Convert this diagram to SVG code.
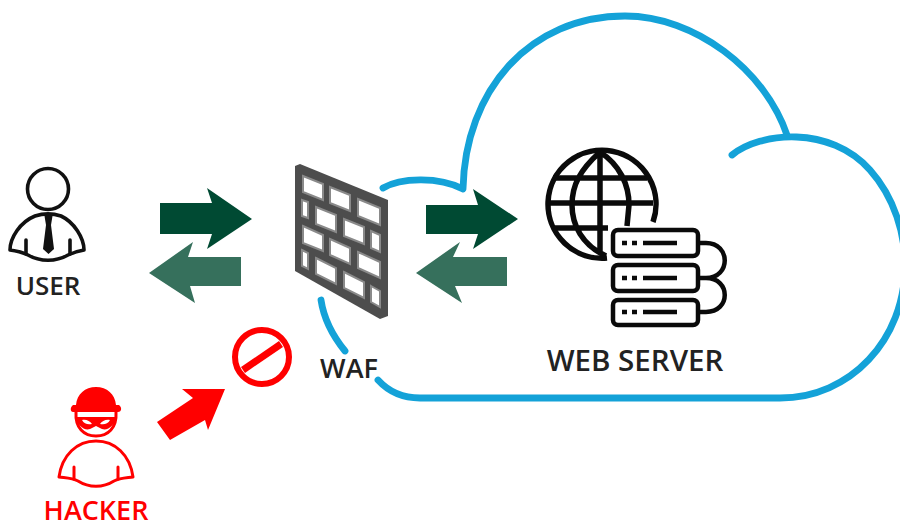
<svg xmlns="http://www.w3.org/2000/svg" width="900" height="528" viewBox="0 0 900 528">
<style>
text{font-family:"Open Sans","Noto Sans","Liberation Sans",sans-serif;font-weight:600;text-anchor:middle}
.k{fill:none;stroke:#111;stroke-width:3.6;stroke-linecap:round;stroke-linejoin:round}
.g{fill:none;stroke:#0a0a0a;stroke-width:5.500;stroke-linecap:butt;stroke-linejoin:round}
.s{fill:#fff;stroke:#0a0a0a;stroke-width:4.500;stroke-linejoin:round}
.l{fill:none;stroke:#0a0a0a;stroke-width:4.500}
.r{fill:none;stroke:#f00;stroke-width:3;stroke-linecap:round;stroke-linejoin:round}
.c{fill:none;stroke:#14a2d8;stroke-width:6.800;stroke-linecap:round;stroke-linejoin:round}
.dark{fill:#004a33}.light{fill:#36705c}
.brick{fill:#fff;stroke:#8a8a8a;stroke-width:2}
</style>
<rect width="900" height="528" fill="#fff"/>
<g id="cloud">
<path class="c" d="M383 188C400 178 438 176 463 189C465 90 530 16 625 16C695 16 765 70 787 135"/>
<path class="c" d="M732 155C760 132 830 125 870 170C895 198 905 235 905 265C905 340 850 398 780 398L420 398C402 398 388 391 378 380"/>
<path class="c" d="M321 300C324 320 332 335 345 351"/>
</g>
<g id="user">
<circle class="k" cx="48" cy="189" r="20.500"/>
<path class="k" d="M35 216C20 222 10 238 10 250C17 251 22 252 28 255C40 262 56 262 68 255C74 252 78 251 84 250C84 238 74 222 61 216C52 213 44 213 35 216Z"/>
<path class="k" d="M26 240V254M70 240V254"/>
<path d="M44 213H53L51 225L54 249L48.500 254L43 249L46 225Z" fill="#111"/>
<text x="48" y="295" font-size="26" fill="#222">USER</text>
</g>
<g id="user-arrows">
<path class="dark" d="M160 203H212L207 188L252 219L207 249L212 234H160Z"/>
<path class="light" d="M241 257H188L193 242L149 273L195 303L190 286H241Z"/>
</g>
<g id="waf">
<path d="M295 166L300 164L388 200V316L380 319L295 271Z" fill="#4d4d4d"/>
<path class="brick" d="M303 176L323 184V200L303 192Z"/>
<path class="brick" d="M330 187L350 195V211L330 203Z"/>
<path class="brick" d="M358 199L380 208V225L358 216Z"/>
<path class="brick" d="M302 200L308 202V218L302 216Z"/>
<path class="brick" d="M316 207L336 215V232L316 224Z"/>
<path class="brick" d="M344 219L364 227V244L344 236Z"/>
<path class="brick" d="M371 231L380 235V252L371 248Z"/>
<path class="brick" d="M303 226L323 235V251L303 243Z"/>
<path class="brick" d="M330 239L350 248V264L330 255Z"/>
<path class="brick" d="M358 252L380 262V278L358 268Z"/>
<path class="brick" d="M302 250L308 253V269L302 266Z"/>
<path class="brick" d="M316 258L336 268V284L316 274Z"/>
<path class="brick" d="M344 272L364 282V298L344 288Z"/>
<path class="brick" d="M371 286L380 291V307L371 302Z"/>
<text x="349" y="378" font-size="27" fill="#222">WAF</text>
</g>
<g id="server-arrows">
<path class="dark" d="M426 205H478L473 189L518 219L473 249L478 234H426Z"/>
<path class="light" d="M507 257H453L460 242L416 273L462 303L455 286H507Z"/>
</g>
<g id="web-server">
<path class="g" d="M653 222A54 54 0 1 0 607 258"/>
<path class="g" d="M600 152C580 170 572 185 572 205C572 225 582 245 606 256M600 152C620 165 629 185 629 205L627 226M600 152V254M553 178H647M547 203H653M553 228H608"/>
<rect class="s" x="613" y="230" width="85" height="26" rx="5"/>
<rect class="s" x="613" y="265" width="85" height="26" rx="5"/>
<rect class="s" x="613" y="300" width="85" height="25" rx="5"/>
<path class="l" d="M698 243H706C731 243 731 278 706 278H698M698 278H706C731 278 731 312 706 312H698"/>
<path class="l" d="M643 243H677M643 278H677M643 312H677"/>
<path class="l" stroke-dasharray="5 5" d="M622 243H638M622 278H638M622 312H638"/>
<text x="635" y="371" font-size="29.500" fill="#222">WEB SERVER</text>
</g>
<g id="block">
<circle cx="262" cy="357" r="27" fill="none" stroke="#f00" stroke-width="6"/>
<path d="M243 370L281 344" stroke="#f00" stroke-width="7" fill="none"/>
<path d="M157 422L193 398L182 389L225 389L208 430L205 420L170 440Z" fill="#f00"/>
</g>
<g id="hacker">
<path d="M73 405H76C77 394 85 387 96 387C107 387 115 394 116 405H119C122 407 122 412 118 412H73C70 412 70 407 73 405Z" fill="#f00"/>
<path class="r" d="M76 412C75 428 84 436 96 436C108 436 117 428 116 412"/>
<path d="M76 417H116C115 425 108 431 102 429L96 426L90 429C84 431 77 425 76 417Z" fill="#f00"/>
<path d="M82 420C86 419 90 421 92 424C88 425 84 424 82 420ZM110 420C106 419 102 421 100 424C104 425 108 424 110 420Z" fill="#fff"/>
<path class="r" d="M59 477C62 455 77 441 96 441C115 441 130 455 133 477C126 478 120 478 114 481C103 488 89 488 78 481C72 478 66 478 59 477Z"/>
<path class="r" d="M74 467V479M118 467V479"/>
<text x="96" y="520" font-size="27" fill="#f00">HACKER</text>
</g>
</svg>
